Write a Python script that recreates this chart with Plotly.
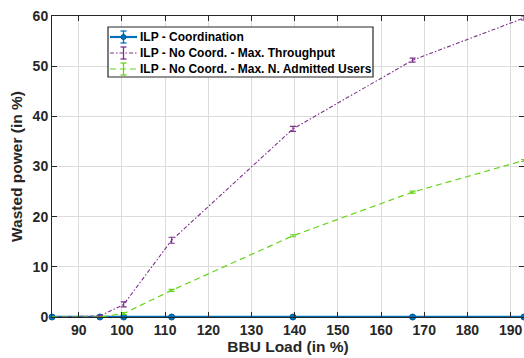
import plotly.graph_objects as go

load = [83.8, 94.9, 100.4, 111.5, 139.6, 167.3, 193.1]
coord = [0, 0, 0, 0, 0, 0, 0]
coord_err = [0, 0, 0, 0, 0, 0, 0]
max_thr = [0, 0.2, 2.5, 15.3, 37.5, 51.2, 59.6]
max_thr_err = [0, 0.1, 0.5, 0.6, 0.5, 0.4, 0.4]
max_users = [0, 0, 0.7, 5.3, 16.2, 24.9, 31.2]
max_users_err = [0, 0, 0.2, 0.2, 0.2, 0.2, 0.2]

series_names = ["ILP - Coordination",
                "ILP - No Coord. - Max. Throughput",
                "ILP - No Coord. - Max. N. Admitted Users"]

x_ticks = [90, 100, 110, 120, 130, 140, 150, 160, 170, 180, 190]
y_ticks = [0, 10, 20, 30, 40, 50, 60]

BLUE = "#0072BD"
PURPLE = "#7E2F8E"
GREEN = "#66D41C"
FONT = "Liberation Sans"
DARK = "#262626"

W, H = 524, 358
ML, MR, MT, MB = 52, 0, 16, 41
PW, PH = W - ML - MR, H - MT - MB


def px(X):
    return (X - ML) / PW


def py(Y):
    return (H - MB - Y) / PH


PURPLE_DASH = "4px,2px,1.5px,2px"
GREEN_DASH = "6px,4px"

fig = go.Figure()
fig.add_trace(go.Scatter(
    x=load, y=coord, name=series_names[0], mode="lines+markers",
    line=dict(color=BLUE, width=2.4),
    marker=dict(symbol="circle", size=6, color=BLUE, line=dict(color="#005a96", width=1)),
    error_y=dict(type="data", array=coord_err, color=BLUE, thickness=1.5, width=3),
    cliponaxis=False, showlegend=False,
))
fig.add_trace(go.Scatter(
    x=load, y=max_thr, name=series_names[1], mode="lines",
    line=dict(color=PURPLE, width=1.1, dash=PURPLE_DASH),
    error_y=dict(type="data", array=max_thr_err, color=PURPLE, thickness=1.2, width=3),
    cliponaxis=False, showlegend=False,
))
fig.add_trace(go.Scatter(
    x=load, y=max_users, name=series_names[2], mode="lines",
    line=dict(color=GREEN, width=1.2, dash=GREEN_DASH),
    error_y=dict(type="data", array=max_users_err, color=GREEN, thickness=1.2, width=3),
    cliponaxis=False, showlegend=False,
))

# Manual legend box (MATLAB style)
shapes = []
annotations = []
shapes.append(dict(type="rect", xref="paper", yref="paper",
                   x0=px(108), x1=px(373), y0=py(77), y1=py(27),
                   line=dict(color=DARK, width=1.2), fillcolor="white", layer="above"))
rows = [37, 53, 69]
colors = [BLUE, PURPLE, GREEN]
dashes = ["solid", PURPLE_DASH, GREEN_DASH]
widths = [2.2, 1.1, 1.2]
for i, (ry, c, d, w) in enumerate(zip(rows, colors, dashes, widths)):
    shapes.append(dict(type="line", xref="paper", yref="paper",
                       x0=px(110), x1=px(137), y0=py(ry), y1=py(ry),
                       line=dict(color=c, width=w, dash=d), layer="above"))
    shapes.append(dict(type="line", xref="paper", yref="paper",
                       x0=px(123.5), x1=px(123.5), y0=py(ry - 6), y1=py(ry + 6),
                       line=dict(color=c, width=1.3), layer="above"))
    for cy in (ry - 6, ry + 6):
        shapes.append(dict(type="line", xref="paper", yref="paper",
                           x0=px(120.5), x1=px(126.5), y0=py(cy), y1=py(cy),
                           line=dict(color=c, width=1.3), layer="above"))
    if i == 0:
        shapes.append(dict(type="circle", xref="paper", yref="paper",
                           x0=px(121), x1=px(126), y0=py(ry + 2.5), y1=py(ry - 2.5),
                           fillcolor=BLUE, line=dict(color="#005a96", width=1), layer="above"))
    annotations.append(dict(xref="paper", yref="paper", x=px(138), y=py(ry),
                            xanchor="left", yanchor="middle", showarrow=False,
                            text=series_names[i],
                            font=dict(family=FONT, size=12, color="#000000", weight="bold")))

axis_common = dict(
    showline=True, linecolor=DARK, linewidth=1, mirror="ticks",
    ticks="inside", ticklen=5, tickcolor=DARK,
    showgrid=True, gridcolor="#dcdcdc", gridwidth=1, zeroline=False,
    tickfont=dict(family=FONT, size=14, color=DARK, weight="bold"),
)

fig.update_layout(
    width=W, height=H,
    margin=dict(l=ML, r=MR, t=MT, b=MB),
    paper_bgcolor="white", plot_bgcolor="white",
    font=dict(family=FONT, color=DARK),
    showlegend=False,
    shapes=shapes,
    annotations=annotations,
    xaxis=dict(
        range=[83.8, 193.1], tickvals=x_ticks,
        title=dict(text="BBU Load (in %)", standoff=2,
                   font=dict(family=FONT, size=15.5, color=DARK, weight="bold")),
        **axis_common,
    ),
    yaxis=dict(
        range=[0, 60], tickvals=y_ticks,
        title=dict(text="Wasted power (in %)", standoff=6,
                   font=dict(family=FONT, size=15.5, color=DARK, weight="bold")),
        **axis_common,
    ),
)

fig.write_html("out.html")
